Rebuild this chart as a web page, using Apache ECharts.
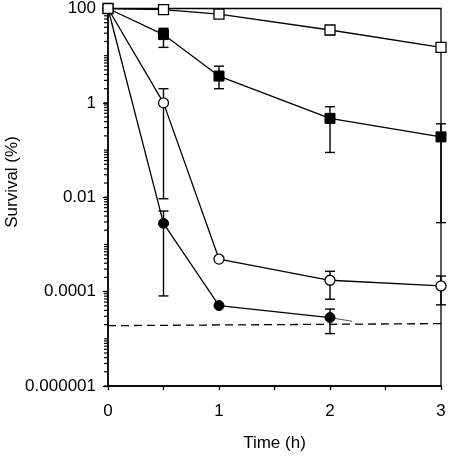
<!DOCTYPE html>
<html>
<head>
<meta charset="utf-8">
<script src="https://cdn.jsdelivr.net/npm/echarts@6/dist/echarts.min.js"></script>
<style>html,body{margin:0;padding:0;background:#fff}#c{width:449px;height:457px}</style>
</head>
<body>
<div id="c"></div>
<script>
const times = [0, 0.5, 1, 2, 3];
const xTickLabels = ['0', '1', '2', '3'];
const yTickLabels = ['0.000001', '0.0001', '0.01', '1', '100'];

const openSquares = [100, 95, 76, 35, 15];
const openSquaresLow = [null, null, null, 28, null];
const openSquaresHigh = [null, null, null, 35, null];

const filledSquares = [100, 28, 3.7, 0.47, 0.19];
const filledSquaresLow = [null, 15, 2.0, 0.089, 0.0029];
const filledSquaresHigh = [null, 38, 6.0, 0.83, 0.36];

const openCircles = [100, 1.0, 0.00049, 0.000174, 0.000132];
const openCirclesLow = [null, 0.0093, null, 0.000069, 0.0000525];
const openCirclesHigh = [null, 2.0, null, 0.00027, 0.000214];

const filledCircles = [100, 0.0028, 0.0000506, 0.0000282];
const filledCirclesLow = [null, 0.000081, null, 0.0000129];
const filledCirclesHigh = [null, 0.0051, null, 0.0000427];

const strayTimes = [2, 2.2];
const strayValues = [0.0000282, 0.0000235];

const limitTimes = [0, 3];
const limitValues = [0.000019, 0.000021];

const yDecades = [-6, -5, -4, -3, -2, -1, 0, 1];
const yMinorMultipliers = [1, 2, 3, 4, 5, 6, 7, 8, 9];

function pairs(xs, ys) { return ys.map((v, i) => [xs[i], v]); }
function errs(xs, lo, hi) {
  const out = [];
  lo.forEach((l, i) => { if (l != null) out.push([xs[i], l, hi[i]]); });
  return out;
}

const errData = [].concat(
  errs(times, openSquaresLow, openSquaresHigh),
  errs(times, filledSquaresLow, filledSquaresHigh),
  errs(times, openCirclesLow, openCirclesHigh),
  errs(times, filledCirclesLow, filledCirclesHigh)
);

const tickVals = [];
yDecades.forEach(d => yMinorMultipliers.forEach(m => {
  const v = m * Math.pow(10, d);
  if (v <= 100 + 1e-9) tickVals.push([0, v]);
}));

const chart = echarts.init(document.getElementById('c'), null, {renderer: 'canvas'});
const lineStyle = {color: '#000', width: 1.3};
const font = 'Liberation Sans, Arial, sans-serif';

chart.setOption({
  animation: false,
  backgroundColor: '#fff',
  grid: {left: 108, right: 8, top: 7, bottom: 69, show: true, borderColor: '#000', borderWidth: 1.3, backgroundColor: 'transparent'},
  xAxis: {
    type: 'value', min: 0, max: 3, interval: 0.5,
    name: 'Time (h)', nameLocation: 'middle', nameGap: 49,
    nameTextStyle: {fontFamily: font, fontSize: 17, color: '#000'},
    axisLine: {lineStyle: {color: '#000', width: 1.5}},
    axisTick: {show: true, length: 4, lineStyle: {color: '#000', width: 1.3}},
    axisLabel: {margin: 17, fontFamily: font, fontSize: 17, color: '#000',
      formatter: v => Math.abs(v - Math.round(v)) < 1e-6 ? xTickLabels[Math.round(v)] : ''},
    splitLine: {show: false}
  },
  yAxis: {
    type: 'log', logBase: 100, min: 0.000001, max: 100,
    axisLine: {show: true, lineStyle: {color: '#000', width: 1.5}},
    axisTick: {show: true, length: 5, lineStyle: {color: '#000', width: 1.3}},
    axisLabel: {margin: 12, fontFamily: font, fontSize: 17, color: '#000',
      formatter: v => yTickLabels[Math.round((Math.log10(v) + 6) / 2)]},
    splitLine: {show: false}
  },
  graphic: [{
    type: 'text', x: 12, y: 182, rotation: Math.PI / 2,
    style: {text: 'Survival (%)', font: '17px Liberation Sans, Arial, sans-serif', fill: '#000', align: 'center', verticalAlign: 'middle'}
  }],
  series: [
    {
      type: 'custom', clip: false, z: 1, silent: true,
      data: tickVals,
      renderItem: (params, api) => {
        const p = api.coord([0, api.value(1)]);
        return {type: 'line', shape: {x1: p[0] - 4, y1: p[1], x2: p[0], y2: p[1]}, style: {stroke: '#000', lineWidth: 1.2}};
      }
    },
    {
      type: 'line', data: pairs(limitTimes, limitValues), symbol: 'none', z: 2,
      lineStyle: {color: '#000', width: 1.3, type: [8, 5]}
    },
    {
      type: 'line', data: pairs(strayTimes, strayValues), symbol: 'none', z: 2,
      lineStyle: {color: '#000', width: 0.7}
    },
    {
      type: 'custom', z: 3, clip: false, silent: true,
      data: errData,
      renderItem: (params, api) => {
        const x = api.value(0);
        const lo = api.coord([x, api.value(1)]);
        const hi = api.coord([x, api.value(2)]);
        const w = 5;
        const s = {stroke: '#000', lineWidth: 1.4};
        return {type: 'group', children: [
          {type: 'line', shape: {x1: lo[0], y1: lo[1], x2: hi[0], y2: hi[1]}, style: s},
          {type: 'line', shape: {x1: lo[0] - w, y1: lo[1], x2: lo[0] + w, y2: lo[1]}, style: s},
          {type: 'line', shape: {x1: hi[0] - w, y1: hi[1], x2: hi[0] + w, y2: hi[1]}, style: s}
        ]};
      }
    },
    {
      type: 'line', data: pairs(times, filledCircles), z: 4,
      symbol: 'circle', symbolSize: 10, showAllSymbol: true,
      lineStyle: lineStyle, itemStyle: {color: '#000', borderColor: '#000', borderWidth: 1}
    },
    {
      type: 'line', data: pairs(times, openCircles), z: 4,
      symbol: 'circle', symbolSize: 10, showAllSymbol: true,
      lineStyle: lineStyle, itemStyle: {color: '#fff', borderColor: '#000', borderWidth: 1.3}
    },
    {
      type: 'line', data: pairs(times, filledSquares), z: 4,
      symbol: 'rect', symbolSize: 10, showAllSymbol: true,
      lineStyle: lineStyle, itemStyle: {color: '#000', borderColor: '#000', borderWidth: 1}
    },
    {
      type: 'line', data: pairs(times, openSquares), z: 5,
      symbol: 'rect', symbolSize: 10, showAllSymbol: true,
      lineStyle: lineStyle, itemStyle: {color: '#fff', borderColor: '#000', borderWidth: 1.3}
    }
  ]
});
</script>
</body>
</html>
